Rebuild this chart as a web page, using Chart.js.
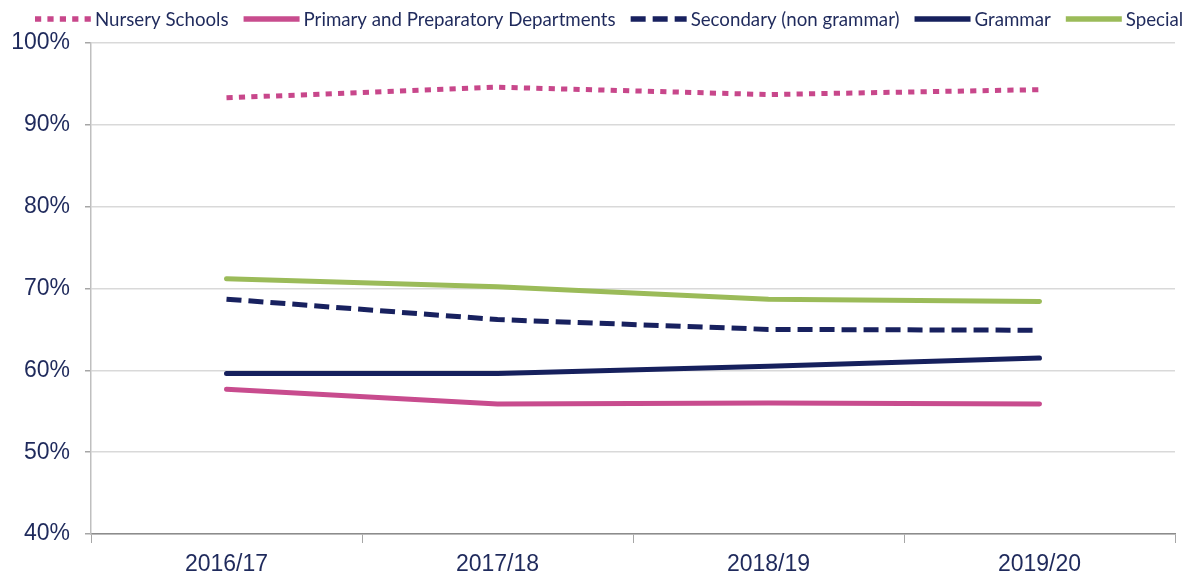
<!DOCTYPE html>
<html>
<head>
<meta charset="utf-8">
<script src="https://cdn.jsdelivr.net/npm/chart.js@4/dist/chart.umd.min.js"></script>
<style>
  html, body { margin: 0; padding: 0; background: #fff; }
  #wrap { width: 1190px; height: 576px; }
</style>
</head>
<body>
<div id="wrap"><canvas id="chart"></canvas></div>
<script>
const years = ['2016/17', '2017/18', '2018/19', '2019/20'];
const nursery = [93.3, 94.6, 93.7, 94.3];
const primary = [57.7, 55.9, 56.0, 55.9];
const secondary = [68.7, 66.2, 65.0, 64.9];
const grammar = [59.6, 59.6, 60.5, 61.5];
const special = [71.2, 70.2, 68.7, 68.4];
const yTicks = [40, 50, 60, 70, 80, 90, 100];

const navyText = '#1f2a5c';

function series(label, data, color, dash) {
  return {
    label: label,
    data: data,
    borderColor: color,
    backgroundColor: color,
    borderWidth: 5,
    borderDash: dash || [],
    borderCapStyle: dash ? 'butt' : 'round',
    borderJoinStyle: 'round',
    pointRadius: 0,
    pointHoverRadius: 0,
    tension: 0,
    fill: false
  };
}

// legend drawn by hand so the sample/text spacing matches the original
const lineLegend = {
  id: 'lineLegend',
  afterDraw(chart) {
    const ctx = chart.ctx;
    const y = 19;
    let x = 35;
    ctx.save();
    ctx.font = '18.7px Lato';
    ctx.textBaseline = 'middle';
    chart.data.datasets.forEach(function (ds) {
      ctx.beginPath();
      ctx.setLineDash(ds.borderDash);
      ctx.lineCap = 'butt';
      ctx.lineWidth = 5.5;
      ctx.strokeStyle = ds.borderColor;
      ctx.moveTo(x, y);
      ctx.lineTo(x + 56, y);
      ctx.stroke();
      ctx.setLineDash([]);
      ctx.fillStyle = navyText;
      ctx.fillText(ds.label, x + 60, y + 1);
      x += 60 + ctx.measureText(ds.label).width + 15;
    });
    ctx.restore();
  }
};

new Chart(document.getElementById('chart'), {
  type: 'line',
  data: {
    labels: years,
    datasets: [
      series('Nursery Schools', nursery, '#c8478b', [6.2, 6.2]),
      series('Primary and Preparatory Departments', primary, '#c84c8e'),
      series('Secondary (non grammar)', secondary, '#18215f', [15, 7]),
      series('Grammar', grammar, '#16205d'),
      series('Special', special, '#9bbb59')
    ]
  },
  options: {
    responsive: true,
    maintainAspectRatio: false,
    animation: false,
    layout: { padding: { left: 0, right: 15, top: 43, bottom: 0 } },
    plugins: {
      legend: { display: false },
      tooltip: { enabled: false }
    },
    scales: {
      x: {
        offset: true,
        afterFit: function (scale) { scale.height = 42; },
        grid: {
          drawOnChartArea: false,
          offset: true,
          tickLength: 9,
          color: '#a6a6a6'
        },
        border: { color: '#8c8c8c', width: 1.5 },
        ticks: {
          color: navyText,
          padding: 10,
          font: { family: 'Liberation Sans', size: 23, lineHeight: 1.0 }
        }
      },
      y: {
        min: 40,
        max: 100,
        afterFit: function (scale) { scale.width = 91; },
        afterBuildTicks: function (scale) {
          scale.ticks = yTicks.map(function (v) { return { value: v }; });
        },
        grid: {
          color: '#d9d9d9',
          lineWidth: 1.5,
          tickLength: 6,
          tickColor: '#a6a6a6'
        },
        border: { color: '#bfbfbf', width: 1.5 },
        ticks: {
          color: navyText,
          padding: 15,
          font: { family: 'Liberation Sans', size: 23 },
          callback: function (v) { return v + '%'; }
        }
      }
    }
  },
  plugins: [lineLegend]
});
</script>
</body>
</html>
